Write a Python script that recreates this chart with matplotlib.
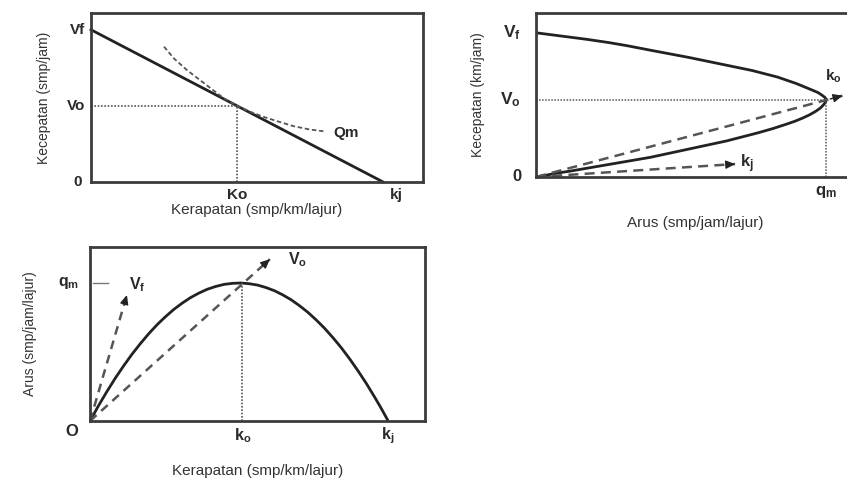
import matplotlib.pyplot as plt
from matplotlib.transforms import blended_transform_factory

plt.rcParams['font.family'] = ['Liberation Sans', 'DejaVu Sans']
plt.rcParams['mathtext.fontset'] = 'custom'
plt.rcParams['mathtext.rm'] = 'Liberation Sans'
plt.rcParams['mathtext.bf'] = 'Liberation Sans:bold'
plt.rcParams['mathtext.it'] = 'Liberation Sans:italic'

# --- DATA (arbitrary units) ---
# panel 1: speed vs density
sd_k = [0, 88]
sd_v = [90, 0]
sd_ko, sd_vo = 44, 45
qm_k = [22, 25, 29, 33, 37, 40, 44, 48, 52, 56, 61, 66, 70]
qm_v = [80, 73, 66, 60, 54, 49.5, 45, 41.5, 38.5, 36, 33, 31, 30]

# panel 2: speed vs flow
sf_v = [88, 87, 86, 85, 84, 83, 82, 81, 80, 78.5, 77, 75, 73, 71, 69, 67, 65,
        63, 61, 59, 57, 55, 53, 51.5, 50, 48.5, 47,
        45.5, 44, 42, 40, 38, 36, 34, 32, 29.5, 27, 24.5, 22, 19.5, 17, 14.5,
        12, 10, 8, 6.5, 5, 3.5, 2.5, 1.2, 0]
sf_q = [0, 4, 8, 12, 16, 19.5, 23, 26, 29, 33, 37, 42.5, 48, 53, 58, 63, 68,
        72, 76, 79, 82, 84.5, 87, 88.8, 90, 91, 91.4,
        91.1, 90.5, 89.5, 88, 86.2, 84, 81.5, 78.5, 74.5, 70, 65, 60, 54, 48, 42,
        36, 30, 24, 19.5, 15, 10.5, 7, 3.5, 0]
sf_vf, sf_vo, sf_qm = 88, 47, 91.4
sf_ko_ray = (96.5, 49.6)
sf_kj_ray = (62.7, 7.9)

# panel 3: flow vs density
fd_k = [0, 2.5, 5, 7.5, 10, 12.5, 15, 17.5, 20, 22.5, 25, 27.5, 30, 32.5, 35,
        37.5, 40, 42.5, 45, 47.5, 50, 52.5, 55, 57.5, 60, 62.5, 65, 67.5, 70,
        72.5, 75, 77.5, 80, 82.5, 85, 87, 89]
fd_q = [0, 8.7, 16.8, 24.5, 31.6, 38.3, 44.4, 50.1, 55.3, 59.9, 64.1, 67.7,
        70.9, 73.5, 75.7, 77.3, 78.5, 79.1, 79.3, 78.9, 78.1, 76.7, 74.9, 72.5,
        69.7, 66.3, 62.5, 58.1, 53.3, 47.9, 42.1, 35.7, 28.8, 21.5, 13.6, 7.0, 0]
fd_ko, fd_kj, fd_qm = 45.5, 89, 79.3
fd_vf_ray = (11, 72.4)
fd_vo_ray = (53.7, 93)

# --- STYLE ---
INK = '#222222'
TXT = '#2a2a2a'
BOX = '#3c3c3c'
DASH = '#555555'


def frame(ax):
    ax.set_xlim(0, 100)
    ax.set_ylim(0, 100)
    ax.set_xticks([])
    ax.set_yticks([])
    for s in ax.spines.values():
        s.set_color(BOX)
        s.set_linewidth(2)


def ylab(ax, y, s, dx=-7, dy=0, size=11):
    ax.annotate(s, xy=(0, y), xytext=(dx, dy), textcoords='offset pixels',
                ha='right', va='center', fontsize=size, fontweight='bold',
                color=TXT, annotation_clip=False)


def xlab(ax, x, s, dy=-12, dx=0, size=11):
    ax.annotate(s, xy=(x, 0), xytext=(dx, dy), textcoords='offset pixels',
                ha='center', va='center', fontsize=size, fontweight='bold',
                color=TXT, annotation_clip=False)


def ray(ax, end, color=DASH, lw=1.8, dashes=(3, 2)):
    ax.plot([0, end[0]], [0, end[1]], color=color, lw=lw,
            linestyle=(0, dashes), clip_on=False)
    ax.annotate('', xy=end, xytext=(end[0] * 0.96, end[1] * 0.96),
                arrowprops=dict(arrowstyle='-|>,head_length=0.55,head_width=0.25',
                                color=INK, lw=1, shrinkA=0, shrinkB=0),
                annotation_clip=False)


fig = plt.figure(figsize=(8.47, 4.82), dpi=100)
fig.patch.set_facecolor('white')

# ---------- panel 1 ----------
ax1 = fig.add_axes([0.1074, 0.6224, 0.392, 0.351])
frame(ax1)
ax1.plot(sd_k, sd_v, color=INK, lw=2, clip_on=False)
ax1.plot(qm_k, qm_v, color=DASH, lw=1.3, linestyle=(0, (2.5, 1.5)))
ax1.plot([0, sd_ko], [sd_vo, sd_vo], color=DASH, lw=1.2, linestyle=(0, (1, 1)))
ax1.plot([sd_ko, sd_ko], [0, sd_vo], color=DASH, lw=1.2, linestyle=(0, (1, 1)))
ylab(ax1, sd_v[0], 'Vf', dx=-6)
ylab(ax1, sd_vo, 'Vo', dx=-6)
ylab(ax1, 0, '0', dx=-9)
xlab(ax1, sd_ko, 'Ko', dy=-13)
xlab(ax1, sd_k[1], 'kj', dx=13, dy=-13)
ax1.text(qm_k[-1] + 3, qm_v[-1] - 1, 'Qm', fontsize=11, fontweight='bold',
         color=TXT, ha='left', va='center')
ax1.set_xlabel('Kerapatan (smp/km/lajur)', fontsize=11, color='#333333',
               labelpad=15)
ax1.set_ylabel('Kecepatan (smp/jam)', fontsize=10, color='#333333',
               labelpad=29)

# ---------- panel 2 ----------
ax2 = fig.add_axes([0.6328, 0.6328, 0.375, 0.340])
frame(ax2)
ax2.plot(sf_q, sf_v, color=INK, lw=2)
ax2.plot([0, sf_qm], [sf_vo, sf_vo], color=DASH, lw=1.1, linestyle=(0, (1, 1)))
ax2.plot([sf_qm, sf_qm], [0, sf_vo], color=DASH, lw=1.1, linestyle=(0, (1, 1)))
ray(ax2, sf_ko_ray, dashes=(4, 2.5))
ray(ax2, sf_kj_ray, dashes=(4, 2.5))
ylab(ax2, sf_vf, r'$\mathbf{V_f}$', dx=-15, size=12.5)
ylab(ax2, sf_vo, r'$\mathbf{V_o}$', dx=-15, size=12.5)
ylab(ax2, 0, '0', dx=-14, size=12)
xlab(ax2, sf_qm, r'$\mathbf{q_m}$', dy=-15, size=12)
ax2.text(sf_kj_ray[0] + 1.5, sf_kj_ray[1], r'$\mathbf{k_j}$', fontsize=12,
         color=TXT, ha='left', va='center')
ax2.text(sf_ko_ray[0] - 5.5, sf_ko_ray[1] + 12, r'$\mathbf{k_o}$', fontsize=11,
         color=TXT, ha='left', va='center', clip_on=False)
ax2.set_xlabel('Arus (smp/jam/lajur)', fontsize=11, color='#333333',
               labelpad=28)
ax2.set_ylabel('Kecepatan (km/jam)', fontsize=10, color='#333333',
               labelpad=37)

# ---------- panel 3 ----------
ax3 = fig.add_axes([0.1063, 0.1266, 0.3955, 0.361])
frame(ax3)
ax3.plot(fd_k, fd_q, color=INK, lw=2)
ax3.plot([fd_ko, fd_ko], [0, fd_qm], color=DASH, lw=1.2, linestyle=(0, (1, 1)))
ray(ax3, fd_vf_ray, dashes=(3.5, 2.5))
ray(ax3, fd_vo_ray, dashes=(3.5, 2.5))
tr = blended_transform_factory(ax3.transAxes, ax3.transData)
ax3.plot([0.01, 0.055], [fd_qm, fd_qm], color='#777777', lw=1, transform=tr)
ylab(ax3, fd_qm, r'$\mathbf{q_m}$', dx=-11, size=11.5)
ylab(ax3, 0, 'O', dx=-12, dy=-11, size=12)
xlab(ax3, fd_ko, r'$\mathbf{k_o}$', dy=-15, size=11.5)
xlab(ax3, fd_kj, r'$\mathbf{k_j}$', dy=-15, size=11.5)
ax3.text(fd_vf_ray[0] + 0.5, fd_vf_ray[1] + 6, r'$\mathbf{V_f}$', fontsize=11.5,
         color=TXT, ha='left', va='center')
ax3.text(fd_vo_ray[0] + 5.5, fd_vo_ray[1], r'$\mathbf{V_o}$', fontsize=11.5,
         color=TXT, ha='left', va='center', clip_on=False)
ax3.set_xlabel('Kerapatan (smp/km/lajur)', fontsize=11, color='#333333',
               labelpad=31)
ax3.set_ylabel('Arus (smp/jam/lajur)', fontsize=10, color='#333333',
               labelpad=38)

fig.savefig('out.png', dpi=100, facecolor='white')
